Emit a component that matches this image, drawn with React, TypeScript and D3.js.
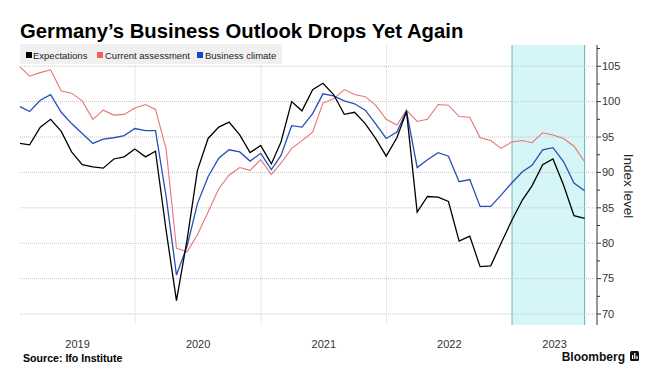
import React from "react";
import * as d3 from "d3";

const months = [
  "2019-01","2019-02","2019-03","2019-04","2019-05","2019-06","2019-07","2019-08","2019-09","2019-10","2019-11","2019-12",
  "2020-01","2020-02","2020-03","2020-04","2020-05","2020-06","2020-07","2020-08","2020-09","2020-10","2020-11","2020-12",
  "2021-01","2021-02","2021-03","2021-04","2021-05","2021-06","2021-07","2021-08","2021-09","2021-10","2021-11","2021-12",
  "2022-01","2022-02","2022-03","2022-04","2022-05","2022-06","2022-07","2022-08","2022-09","2022-10","2022-11","2022-12",
  "2023-01","2023-02","2023-03","2023-04","2023-05","2023-06","2023-07",
];

const expectations = [
  94.1, 93.9, 96.4, 97.5, 95.8, 92.9, 91.1, 90.8, 90.6, 91.9, 92.2, 93.3,
  92.2, 93.0, 81.8, 71.9, 80.5, 90.3, 94.8, 96.4, 97.1, 95.3, 92.8, 93.8,
  91.2, 94.3, 100.0, 98.7, 101.7, 102.6, 101.0, 98.2, 98.5, 96.9, 94.8, 92.3,
  94.9, 98.6, 84.4, 86.6, 86.5, 85.9, 80.3, 81.0, 76.7, 76.8, 80.0, 83.2,
  86.1, 88.1, 91.1, 91.9, 88.2, 83.9, 83.5,
];

const currentAssessment = [
  104.9, 103.6, 104.1, 104.5, 101.5, 101.2, 100.1, 97.5, 98.8, 98.1, 98.2, 99.1,
  99.6, 98.9, 93.3, 79.3, 78.8, 81.2, 84.4, 87.7, 89.6, 90.7, 90.3, 91.8,
  89.7, 91.3, 93.4, 94.5, 95.7, 99.8, 100.4, 101.7, 101.0, 100.7, 99.5, 97.5,
  96.7, 98.8, 97.2, 97.5, 99.6, 99.5, 97.9, 97.8, 94.9, 94.5, 93.4, 94.3,
  94.5, 94.2, 95.6, 95.3, 94.8, 93.7, 91.5,
];

const businessClimate = [
  99.3, 98.6, 100.2, 101.0, 98.5, 96.9, 95.5, 94.1, 94.7, 94.9, 95.2, 96.2,
  95.9, 95.9, 86.6, 75.5, 79.6, 85.6, 89.4, 92.0, 93.2, 92.9, 91.6, 92.7,
  90.4, 92.4, 96.6, 96.4, 98.3, 101.1, 100.8, 100.1, 99.7, 98.8, 96.9, 94.8,
  95.7, 98.7, 90.7, 91.8, 92.8, 92.3, 88.7, 89.0, 85.2, 85.2, 86.8, 88.5,
  90.1, 91.0, 93.2, 93.5, 91.5, 88.5, 87.4,
];

const yTicks = [70, 75, 80, 85, 90, 95, 100, 105];
const yMinorTicks = [72.5, 77.5, 82.5, 87.5, 92.5, 97.5, 102.5, 107.5];
const yearLabels = ["2019", "2020", "2021", "2022", "2023"];
const shadeStartMonth = "2023-01";

const seriesNames = ["Expectations", "Current assessment", "Business climate"];
const seriesColors = ["#000000", "#e87474", "#2450b8"];
const legendColors = ["#000000", "#f06060", "#1a44c8"];

const W = 649;
const H = 383;
const PL = 20;
const PR = 597;
const PT = 45;
const PB = 325;
const FONT = "'Liberation Sans', Arial, sans-serif";

const monthEnd = (m: string) => {
  const [y, mo] = m.split("-").map(Number);
  return new Date(y, mo, 0);
};
const monthStart = (m: string) => {
  const [y, mo] = m.split("-").map(Number);
  return new Date(y, mo - 1, 1);
};

export default function App() {
  const x = d3
    .scaleTime()
    .domain([new Date(2019, 0, 31), new Date(2023, 8, 5)])
    .range([PL, PR]);
  const y = d3.scaleLinear().domain([68.45, 108]).range([PB, PT]);

  const dates = months.map(monthEnd);
  const series = [expectations, currentAssessment, businessClimate];
  const drawOrder = [1, 2, 0];

  const line = d3
    .line<number>()
    .x((_, i) => x(dates[i]))
    .y((d) => y(d));

  const yearBoundaries = yearLabels
    .slice(1)
    .map((yr) => x(new Date(Number(yr), 0, 1)));

  const yearCenters = yearLabels.map((yr) => {
    const a = Math.max(PL, x(new Date(Number(yr), 0, 1)));
    const b = Math.min(PR, x(new Date(Number(yr) + 1, 0, 1)));
    return (a + b) / 2;
  });

  const shadeX0 = x(monthStart(shadeStartMonth));
  const shadeX1 = x(dates[dates.length - 1]);

  const legendItems = [
    { sq: 26, tx: 33 },
    { sq: 97, tx: 105 },
    { sq: 197, tx: 205 },
  ];

  return (
    <svg
      width={W}
      height={H}
      style={{ position: "absolute", left: 0, top: 0, background: "#fff" }}
      fontFamily={FONT}
    >
      <rect x={0} y={0} width={W} height={H} fill="#fff" />
      <text x={20} y={38} fontSize={20.3} fontWeight="bold" fill="#000">
        Germany’s Business Outlook Drops Yet Again
      </text>

      {/* shading */}
      <rect x={shadeX0} y={PT} width={shadeX1 - shadeX0} height={PB - PT} fill="#d5f5f7" />
      <line x1={shadeX0} x2={shadeX0} y1={PT} y2={PB} stroke="#52b9b9" strokeWidth={1} />
      <line x1={shadeX1} x2={shadeX1} y1={PT} y2={PB} stroke="#52b9b9" strokeWidth={1} />

      {/* grid */}
      {yTicks.map((t) => (
        <line
          key={"hg" + t}
          x1={PL}
          x2={PR}
          y1={y(t)}
          y2={y(t)}
          stroke="#c4c4c4"
          strokeWidth={1}
          strokeDasharray="1,1"
        />
      ))}
      {yearBoundaries.map((bx, i) => (
        <line
          key={"vg" + i}
          x1={bx}
          x2={bx}
          y1={PT}
          y2={PB}
          stroke="#d4d4d4"
          strokeWidth={1}
          strokeDasharray="1,1"
        />
      ))}

      {/* legend */}
      <rect x={20} y={44} width={262} height={20} fill="#f0f0f0" />
      {seriesNames.map((n, i) => (
        <g key={n}>
          <rect x={legendItems[i].sq} y={52} width={6} height={6} fill={legendColors[i]} />
          <text x={legendItems[i].tx} y={58.5} fontSize={9.5} fill="#222">
            {n}
          </text>
        </g>
      ))}

      {/* lines */}
      {drawOrder.map((si) => (
        <path
          key={"s" + si}
          d={line(series[si]) || ""}
          fill="none"
          stroke={seriesColors[si]}
          strokeWidth={si === 1 ? 1.1 : 1.3}
          strokeLinejoin="miter"
        />
      ))}

      {/* y axis */}
      <line x1={PR} x2={PR} y1={PT} y2={PB} stroke="#333" strokeWidth={1} />
      {yTicks.map((t) => (
        <g key={"yt" + t}>
          <line x1={PR} x2={PR + 4} y1={y(t)} y2={y(t)} stroke="#333" />
          <text x={PR + 5} y={y(t)} dy="0.35em" fontSize={11} fill="#333">
            {t}
          </text>
        </g>
      ))}
      {yMinorTicks.map((t) => (
        <line key={"ym" + t} x1={PR} x2={PR + 3} y1={y(t)} y2={y(t)} stroke="#333" />
      ))}
      <text
        transform={`translate(624,186) rotate(90)`}
        textAnchor="middle"
        fontSize={13.5}
        fill="#222"
      >
        Index level
      </text>

      {/* x labels */}
      {yearLabels.map((yr, i) => (
        <text
          key={yr}
          x={yearCenters[i]}
          y={348}
          textAnchor="middle"
          fontSize={11}
          fill="#333"
        >
          {yr}
        </text>
      ))}

      <text x={23} y={362} fontSize={10.6} fontWeight="bold" fill="#000">
        Source: Ifo Institute
      </text>
      <text x={625} y={361} textAnchor="end" fontSize={12} fontWeight="bold" fill="#111">
        Bloomberg
      </text>
      <rect x={630} y={351} width={9} height={10} rx={1.5} fill="#111" />
      <rect x={632} y={355} width={1.2} height={4} fill="#fff" />
      <rect x={634.2} y={353} width={1.2} height={6} fill="#fff" />
      <rect x={636.4} y={356} width={1.2} height={3} fill="#fff" />
    </svg>
  );
}
